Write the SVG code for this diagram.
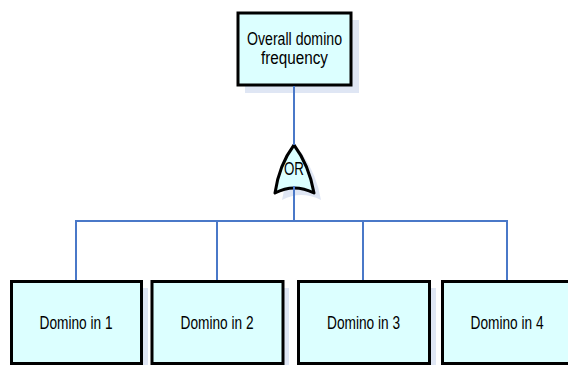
<svg xmlns="http://www.w3.org/2000/svg" width="568" height="365" viewBox="0 0 568 365">
<style>
.box{fill:#dcffff;stroke:#000;stroke-width:3}
.shadow{fill:#dfe6f4;stroke:none}
.conn{fill:none;stroke:#4a78c8;stroke-width:2}
text{font-family:"Liberation Sans",Arial,sans-serif;font-size:17.5px;fill:#000;text-anchor:middle}
</style>
<rect width="568" height="365" fill="#fff"/>
<g id="top">
<rect class="shadow" x="245" y="20" width="114" height="73"/>
<rect class="box" x="238" y="13" width="113" height="72"/>
<text x="294.5" y="44.5" textLength="95" lengthAdjust="spacingAndGlyphs">Overall domino</text>
<text x="294.5" y="63.5" textLength="67" lengthAdjust="spacingAndGlyphs">frequency</text>
</g>
<g id="gate">
<path class="shadow" d="M301,152 Q317,175 321,200 Q301,190 282,200 Q286,175 301,152 Z"/>
<path d="M294,145 Q309,165 314,193 Q294,183 275,193 Q279,165 294,145 Z" fill="#dcffff" stroke="#000" stroke-width="3" stroke-linejoin="round"/>
<text x="294" y="174.5" textLength="20" lengthAdjust="spacingAndGlyphs">OR</text>
</g>
<g id="connectors">
<line class="conn" x1="294" y1="86" x2="294" y2="145"/>
<line class="conn" x1="294" y1="186" x2="294" y2="221"/>
<polyline class="conn" points="76,281 76,221 507,221 507,281"/>
<line class="conn" x1="217" y1="221" x2="217" y2="281"/>
<line class="conn" x1="363" y1="221" x2="363" y2="281"/>
</g>
<g id="d1">
<rect class="shadow" x="18" y="288" width="130" height="82"/>
<rect class="box" x="11.5" y="281.5" width="130" height="82"/>
<text x="76" y="328.5" textLength="73" lengthAdjust="spacingAndGlyphs">Domino in 1</text>
</g>
<g id="d2">
<rect class="shadow" x="158" y="288" width="131" height="82"/>
<rect class="box" x="152" y="281.5" width="131" height="82"/>
<text x="217" y="328.5" textLength="73" lengthAdjust="spacingAndGlyphs">Domino in 2</text>
</g>
<g id="d3">
<rect class="shadow" x="305" y="288" width="131" height="82"/>
<rect class="box" x="298.5" y="281.5" width="131" height="82"/>
<text x="363.5" y="328.5" textLength="73" lengthAdjust="spacingAndGlyphs">Domino in 3</text>
</g>
<g id="d4">
<rect class="shadow" x="449" y="288" width="131" height="82"/>
<rect class="box" x="442.5" y="281.5" width="131" height="82"/>
<text x="507" y="328.5" textLength="73" lengthAdjust="spacingAndGlyphs">Domino in 4</text>
</g>
</svg>
